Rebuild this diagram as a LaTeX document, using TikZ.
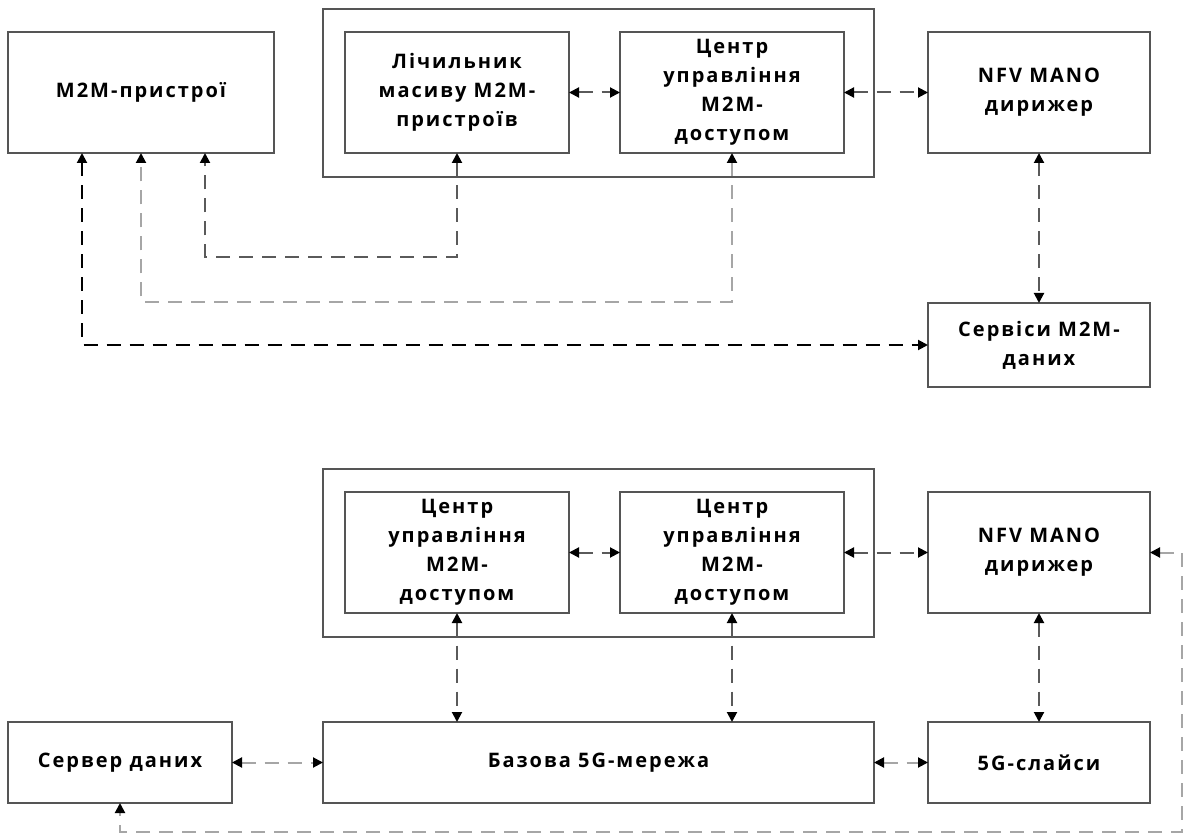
\documentclass[tikz,border=0pt]{standalone}
\usepackage{fontspec}
\setmainfont{Open Sans}[LetterSpace=10]
\usetikzlibrary{arrows.meta}
\usetikzlibrary{calc}
\definecolor{boxgrey}{HTML}{555555}
\definecolor{darkline}{HTML}{5A5A5A}
\definecolor{lightline}{HTML}{A6A6A6}

\begin{document}
\begin{tikzpicture}[x=1pt, y=-1pt,
            >={Triangle[length=10pt,width=10pt,color=black]},
            box/.style={draw=boxgrey, line width=2pt, inner sep=0pt, outer sep=0pt, align=center,
                font=\fontsize{20}{29}\selectfont\bfseries},
            conn/.style={<->, darkline, line width=2pt, dash pattern=on 14pt off 9pt}]
            \useasboundingbox (0,0) rectangle (1184,834);

            \node[box, minimum width=551pt, minimum height=168pt] (grpA) at (598.5,93) {};
            \node[box, minimum width=266pt, minimum height=121pt] (dev) at (141,92.5) {M2M-пристрої};
            \node[box, minimum width=224pt, minimum height=121pt] (lich) at (457,92.5) {Лічильник\\масиву M2M-\\пристроїв};
            \node[box, minimum width=224pt, minimum height=121pt] (ctr) at (732,92.5) {Центр\\управління\\M2M-\\доступом};
            \node[box, minimum width=222pt, minimum height=121pt] (nfvA) at (1039,92.5) {NFV MANO\\дирижер};
            \node[box, minimum width=222pt, minimum height=84pt] (serv) at (1039,345) {Сервіси M2M-\\даних};

            \draw[conn] (lich) -- (ctr);
            \draw[conn] (ctr) -- (nfvA);
            \draw[conn] (nfvA) -- (serv);
            \draw[conn] (lich.south) -- ++(0,104) -| ($(dev.south)+(64,0)$);
            \draw[conn, lightline] (ctr.south) -- ++(0,149) -| (dev.south);
            \draw[conn, black] ($(dev.south)+(-59,0)$) |- (serv.west);

            \node[box, minimum width=551pt, minimum height=168pt] (grpB) at (598.5,553) {};
            \node[box, minimum width=224pt, minimum height=121pt] (ctrB) at (457,552.5) {Центр\\управління\\M2M-\\доступом};
            \node[box, minimum width=224pt, minimum height=121pt] (ctrC) at (732,552.5) {Центр\\управління\\M2M-\\доступом};
            \node[box, minimum width=222pt, minimum height=121pt] (nfvB) at (1039,552.5) {NFV MANO\\дирижер};
            \node[box, minimum width=224pt, minimum height=81pt] (srv) at (120,762.5) {Сервер даних};
            \node[box, minimum width=551pt, minimum height=81pt] (core) at (598.5,762.5) {Базова 5G-мережа};
            \node[box, minimum width=222pt, minimum height=81pt] (slc) at (1039,762.5) {5G-слайси};

            \draw[conn] (ctrB) -- (ctrC);
            \draw[conn] (ctrC) -- (nfvB);
            \draw[conn] (ctrB.south) -- (ctrB.south |- core.north);
            \draw[conn] (ctrC.south) -- (ctrC.south |- core.north);
            \draw[conn] (nfvB) -- (slc);
            \draw[conn, lightline] (srv) -- (core);
            \draw[conn, lightline] (core) -- (slc);
            \draw[conn, lightline] (nfvB.east) -- ++(32,0) -- ++(0,279.5) -| (srv.south);
\end{tikzpicture}
\end{document}
